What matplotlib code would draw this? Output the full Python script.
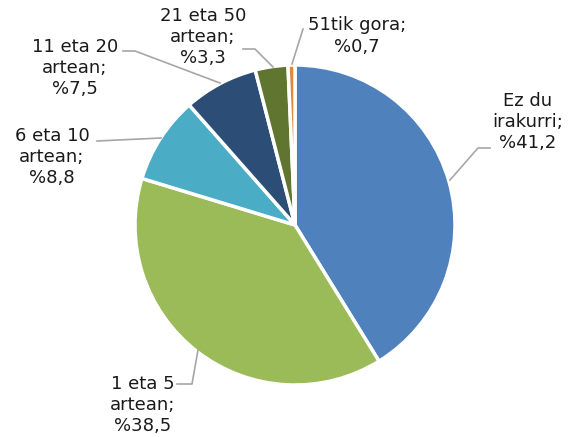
import matplotlib
matplotlib.use("Agg")
import matplotlib.pyplot as plt

# data
labels = ["Ez du\nirakurri;", "1 eta 5\nartean;", "6 eta 10\nartean;",
          "11 eta 20\nartean;", "21 eta 50\nartean;", "51tik gora;"]
values = [41.2, 38.5, 8.8, 7.5, 3.3, 0.7]
colors = ["#4F81BD", "#9BBB59", "#4BACC6", "#2C4D75", "#5F7530", "#E0883D"]

W, H = 571, 437

# label centres and leader lines in pixel coords (y downwards)
label_pos = [(528, 122), (143, 405), (52, 157), (75, 68), (203, 37), (357, 36)]
leaders = [
    [(450, 180), (478, 148), (490, 148)],
    [(177, 384), (192, 384), (198, 350)],
    [(97, 141), (161, 138)],
    [(123, 51), (135, 51), (220, 83)],
    [(243, 49), (255, 49), (273, 67)],
    [(303, 29), (292, 64)],
]

fig = plt.figure(figsize=(W / 100, H / 100), dpi=100)
ax = fig.add_axes([0, 0, 1, 1])

ax.pie(values, colors=colors, startangle=90, counterclock=False,
       center=(295, H - 225), radius=160,
       wedgeprops=dict(edgecolor="white", linewidth=2.5))

# pie() resets the limits, so set them afterwards
ax.set_xlim(0, W)
ax.set_ylim(0, H)
ax.set_aspect("equal")
ax.axis("off")

for pts in leaders:
    xs = [p[0] for p in pts]
    ys = [H - p[1] for p in pts]
    ax.plot(xs, ys, color="#A6A6A6", linewidth=1.2)

for lab, v, (x, y) in zip(labels, values, label_pos):
    txt = lab + "\n%" + ("%.1f" % v).replace(".", ",")
    ax.text(x, H - y, txt, ha="center", va="center", multialignment="center",
            fontsize=13, linespacing=1.22, color="#1a1a1a")

fig.savefig("out.png", dpi=100)
